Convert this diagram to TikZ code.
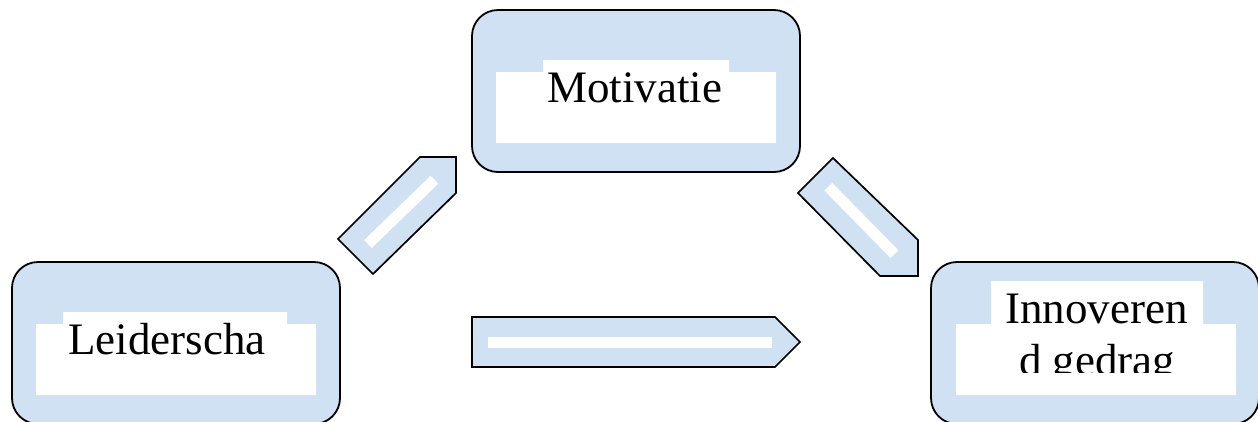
\documentclass[tikz,border=0pt]{standalone}
\usepackage{fontspec}
\setmainfont{Liberation Serif}
\definecolor{paleblue}{RGB}{207,225,242}
\begin{document}
\begin{tikzpicture}[x=1pt,y=-1pt,
  block/.style={draw=black, line width=1.8pt, fill=paleblue, rounded corners=26pt,
    minimum width=328pt, minimum height=162pt, inner sep=0pt},
  shaft/.style={draw=black, line width=1.7pt, fill=paleblue, line join=miter},
  stripe/.style={draw=white, line width=11pt},
  label/.style={inner sep=0pt, anchor=base west, font=\fontsize{45}{52}\selectfont}]
\useasboundingbox (0,0) rectangle (1258,421);
\clip (0,0) rectangle (1258,421);

% the three rounded boxes
\node[block] (mot) at (636,91) {};
\node[block] (lead) at (176,343) {};
\node[block] (inno) at (1095,343) {};

% white text fields inside the boxes
\fill[white] (496,72) rectangle (776,143) (543,60) rectangle (729,72);
\fill[white] (36,324) rectangle (316,395) (63,312) rectangle (287,324);
\fill[white] (956,324) rectangle (1236,395) (991,281) rectangle (1203,324);

% labels
\node[label] (motT) at (547,102) {Motivatie};
\node[label] (leadT) at (68,354) {Leiderscha};
\begin{scope}
  \clip (991,281) rectangle (1203,372);
  \node[label] (innoA) at (1005,323) {Innoveren};
  \node[label] (innoB) at (1019,375) {d gedrag};
\end{scope}

% block arrows between the boxes
\draw[shaft] (338,239) -- (420,157) -- (456,157) -- (456,193) -- (373,274) -- cycle;
\coordinate (s1a) at (368,244);
\coordinate (s1b) at (434.5,179.7);
\draw[stripe] (s1a) -- (s1b);

\draw[shaft] (798,193) -- (833,158) -- (918,240) -- (918,276) -- (880,276) -- cycle;
\coordinate (s2a) at (828.3,186.7);
\coordinate (s2b) at (894.5,254.2);
\draw[stripe] (s2a) -- (s2b);

\draw[shaft] (472,317) -- (775,317) -- (800,342) -- (775,367) -- (472,367) -- cycle;
\fill[white] (488,337) rectangle (772,348);
\end{tikzpicture}
\end{document}
